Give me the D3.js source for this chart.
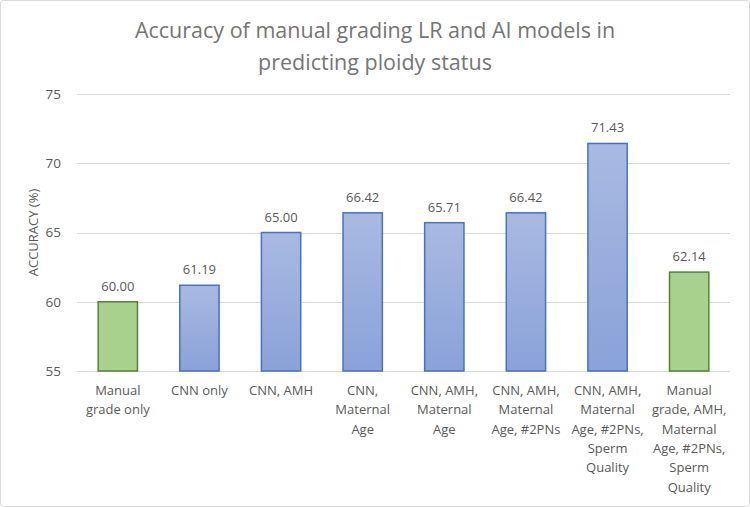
<!DOCTYPE html>
<html><head><meta charset="utf-8">
<script src="https://cdn.jsdelivr.net/npm/d3@7"></script>
<style>
body{margin:0;background:#fff;}
svg{display:block;font-family:"Open Sans",sans-serif;}
</style></head><body>
<svg id="c" width="750" height="507"></svg>
<script>
const categories = [
  ["Manual","grade only"],
  ["CNN only"],
  ["CNN, AMH"],
  ["CNN,","Maternal","Age"],
  ["CNN, AMH,","Maternal","Age"],
  ["CNN, AMH,","Maternal","Age, #2PNs"],
  ["CNN, AMH,","Maternal","Age, #2PNs,","Sperm","Quality"],
  ["Manual","grade, AMH,","Maternal","Age, #2PNs,","Sperm","Quality"]
];
const values = [60.00, 61.19, 65.00, 66.42, 65.71, 66.42, 71.43, 62.14];
const groups = ["manual","ai","ai","ai","ai","ai","ai","manual"];
const yTicks = [55, 60, 65, 70, 75];
const title = ["Accuracy of manual grading LR and AI models in","predicting ploidy status"];
const yTitle = "ACCURACY (%)";

const svg = d3.select("#c");
const W = 750, H = 507;
const m = {l:77, r:20, t:94, b:136};
const x = d3.scaleBand().domain(d3.range(values.length)).range([m.l, W - m.r]).paddingInner(0.5).paddingOuter(0.25);
const y = d3.scaleLinear().domain([55, 75]).range([H - m.b, m.t]);

svg.append("rect").attr("x",0.5).attr("y",0.5).attr("width",W-1).attr("height",H-1)
  .attr("rx",3).attr("fill","#fff").attr("stroke","#d9d9d9");

const defs = svg.append("defs");
const g = defs.append("linearGradient").attr("id","blueGrad").attr("x1",0).attr("y1",0).attr("x2",0).attr("y2",1);
g.append("stop").attr("offset","0%").attr("stop-color","#a9b9e1");
g.append("stop").attr("offset","100%").attr("stop-color","#8aa2d9");

// title
svg.append("text").attr("text-anchor","middle").attr("fill","#757575")
  .style("font-size","21.5px")
  .selectAll("tspan").data(title).join("tspan")
  .attr("x", W/2).attr("y",(d,i)=>38 + i*32).text(d=>d);

// grid
svg.append("g").selectAll("line").data(yTicks).join("line")
  .attr("x1", m.l).attr("x2", W - m.r)
  .attr("y1", d=>Math.round(y(d))+0.5).attr("y2", d=>Math.round(y(d))+0.5)
  .attr("stroke","#d9d9d9").attr("stroke-width",1);

// y axis labels
const yAxis = d3.axisLeft(y).tickValues(yTicks).tickSize(0).tickPadding(16);
const ya = svg.append("g").attr("transform",`translate(${m.l},0)`).call(yAxis);
ya.select(".domain").remove();
ya.selectAll("text").attr("fill","#595959").style("font-size","13.5px").style("font-family","'Open Sans',sans-serif");

svg.append("text").attr("transform",`translate(38,${(m.t + H - m.b)/2}) rotate(-90)`)
  .attr("text-anchor","middle").attr("fill","#595959").style("font-size","13px").text(yTitle);

// bars
svg.append("g").selectAll("rect").data(values).join("rect")
  .attr("x",(d,i)=>x(i)+0.75).attr("width",x.bandwidth()-1.5)
  .attr("y",d=>y(d)).attr("height",d=>y(55)-y(d))
  .attr("fill",(d,i)=>groups[i]==="manual" ? "#a9d18e" : "url(#blueGrad)")
  .attr("stroke",(d,i)=>groups[i]==="manual" ? "#548235" : "#4472c4")
  .attr("stroke-width",1.5);

// data labels
svg.append("g").selectAll("text").data(values).join("text")
  .attr("x",(d,i)=>x(i)+x.bandwidth()/2).attr("y",d=>y(d)-11)
  .attr("text-anchor","middle").attr("fill","#595959").style("font-size","13px")
  .text(d=>d.toFixed(2));

// x labels
const xl = svg.append("g").selectAll("text").data(categories).join("text")
  .attr("text-anchor","middle").attr("fill","#595959").style("font-size","13px");
xl.selectAll("tspan").data((d,i)=>d.map(s=>({s,i}))).join("tspan")
  .attr("x",d=>x(d.i)+x.bandwidth()/2).attr("y",(d,j)=>395 + j*19.3).text(d=>d.s);
</script>
</body></html>
